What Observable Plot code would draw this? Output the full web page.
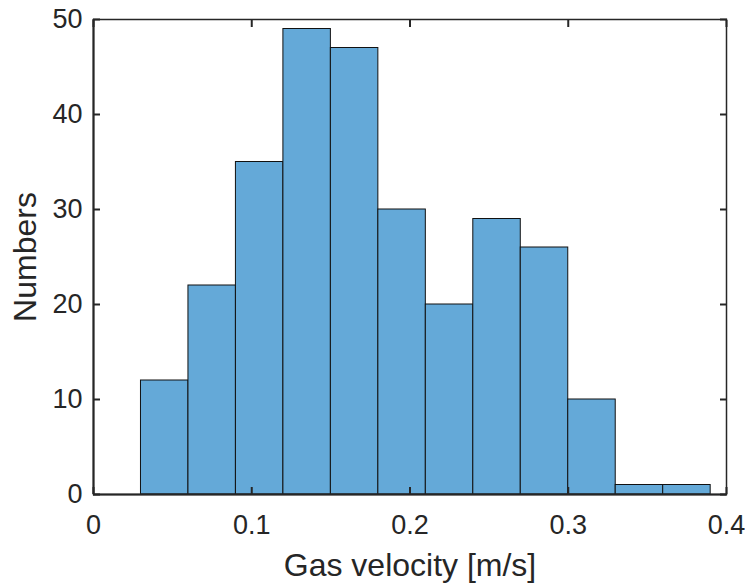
<!DOCTYPE html>
<html>
<head>
<meta charset="utf-8">
<script src="https://cdn.jsdelivr.net/npm/d3@7"></script>
<script src="https://cdn.jsdelivr.net/npm/@observablehq/plot@0.6"></script>
<style>
  html, body { margin: 0; padding: 0; background: #fff; }
</style>
</head>
<body>
<div id="chart"></div>
<script>
const binStarts = [0.03, 0.06, 0.09, 0.12, 0.15, 0.18, 0.21, 0.24, 0.27, 0.30, 0.33, 0.36];
const binWidth = 0.03;
const counts = [12, 22, 35, 49, 47, 30, 20, 29, 26, 10, 1, 1];
const xTicks = [0, 0.1, 0.2, 0.3, 0.4];
const yTicks = [0, 10, 20, 30, 40, 50];
const xLabel = "Gas velocity [m/s]";
const yLabel = "Numbers";

const data = binStarts.map((s, i) => ({x1: s, x2: +(s + binWidth).toFixed(2), y: counts[i]}));
const fmt = d => String(+d.toFixed(2));
const ink = "#262626";
const font = "'Liberation Sans', Arial, Helvetica, sans-serif";

const chart = Plot.plot({
  width: 745,
  height: 584,
  marginLeft: 93,
  marginRight: 19,
  marginTop: 19,
  marginBottom: 90,
  x: {domain: [0, 0.4]},
  y: {domain: [0, 50]},
  style: {fontFamily: font, color: ink, background: "white", overflow: "visible"},
  marks: [
    Plot.rectY(data, {x1: "x1", x2: "x2", y: "y", fill: "#64a9d8", stroke: "#111", strokeWidth: 1}),
    Plot.frame({stroke: ink, strokeWidth: 1.5}),
    Plot.ruleY([0], {stroke: ink, strokeWidth: 2.2}),
    Plot.ruleX([0], {stroke: ink, strokeWidth: 2}),
    // tick labels
    Plot.axisX({ticks: xTicks, tickSize: 0, tickPadding: 20, tickFormat: fmt, label: null, fontSize: 27, fill: ink}),
    Plot.axisY({ticks: yTicks, tickSize: 0, tickPadding: 11, tickFormat: fmt, label: null, fontSize: 27, fill: ink}),
    // inward ticks on all four sides
    Plot.axisX({ticks: xTicks, tickSize: -7, tickFormat: () => "", label: null, stroke: ink, strokeWidth: 2}),
    Plot.axisX({anchor: "top", ticks: xTicks, tickSize: -7, tickFormat: () => "", label: null, stroke: ink, strokeWidth: 2}),
    Plot.axisY({ticks: yTicks, tickSize: -7, tickFormat: () => "", label: null, stroke: ink, strokeWidth: 2}),
    Plot.axisY({anchor: "right", ticks: yTicks, tickSize: -7, tickFormat: () => "", label: null, stroke: ink, strokeWidth: 2}),
    // axis titles
    Plot.axisX({ticks: [], tickSize: 0, label: xLabel, labelAnchor: "center", labelArrow: false, labelOffset: 81, fontSize: 32, fill: ink}),
    Plot.axisY({ticks: [], tickSize: 0, label: yLabel, labelAnchor: "center", labelArrow: false, labelOffset: 80, fontSize: 32, fill: ink})
  ]
});
document.getElementById("chart").appendChild(chart);
</script>
</body>
</html>
